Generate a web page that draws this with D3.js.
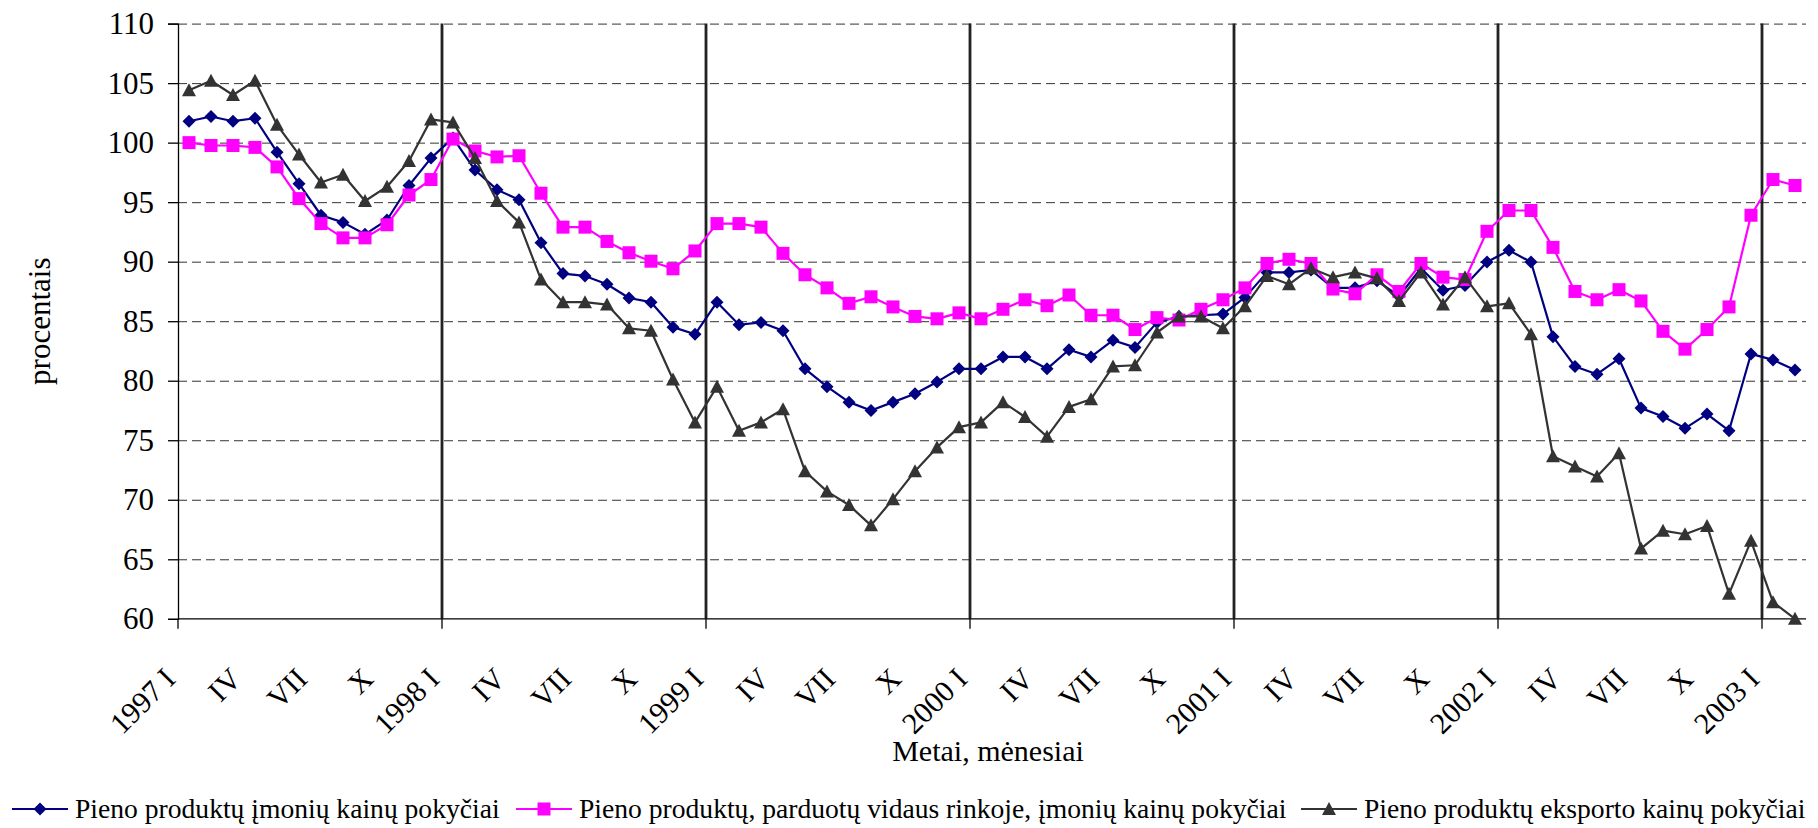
<!DOCTYPE html>
<html>
<head>
<meta charset="utf-8">
<script src="https://cdn.jsdelivr.net/npm/d3@7"></script>
<style>
  html, body { margin: 0; padding: 0; background: #fff; }
  svg { display: block; }
  text { font-family: "Liberation Serif", "Times New Roman", serif; fill: #000; }
</style>
</head>
<body>
<svg id="chart" width="1818" height="828"></svg>
<script>
// ---- DATA ----
const years = ["1997", "1998", "1999", "2000", "2001", "2002", "2003"];
const months = ["I", "II", "III", "IV", "V", "VI", "VII", "VIII", "IX", "X", "XI", "XII"];
const labelMonths = ["I", "IV", "VII", "X"];
const yTicks = [60, 65, 70, 75, 80, 85, 90, 95, 100, 105, 110];

const seriesNames = [
  "Pieno produktų įmonių kainų pokyčiai",
  "Pieno produktų, parduotų vidaus rinkoje, įmonių kainų pokyčiai",
  "Pieno produktų eksporto kainų pokyčiai"
];

const imoniu = [
  101.8, 102.2, 101.8, 102.05, 99.2, 96.55, 93.9, 93.3, 92.3, 93.5, 96.4, 98.7,
  100.4, 97.7, 96.05, 95.2, 91.6, 89.0, 88.8, 88.1, 86.95, 86.6, 84.5, 83.9,
  86.6, 84.7, 84.9, 84.2, 81.0, 79.5, 78.2, 77.5, 78.2, 78.9, 79.9, 81.0,
  81.0, 82.0, 82.0, 81.0, 82.6, 82.0, 83.4, 82.8, 84.9, 85.4, 85.5, 85.6,
  87.0, 89.1, 89.1, 89.3, 87.8, 87.8, 88.4, 87.1, 89.45, 87.6, 88.0, 89.97,
  90.95, 89.97, 83.7, 81.2, 80.55, 81.85, 77.7, 77.0, 76.0, 77.2, 75.8, 82.25,
  81.75, 80.9
];
const vidaus = [
  100.0, 99.76, 99.76, 99.6, 97.96, 95.3, 93.2, 92.0, 92.0, 93.1, 95.6, 96.9,
  100.3, 99.3, 98.8, 98.9, 95.75, 92.9, 92.9, 91.7, 90.75, 90.04, 89.4, 90.9,
  93.2, 93.2, 92.9, 90.7, 88.9, 87.8, 86.5, 87.05, 86.2, 85.4, 85.2, 85.7,
  85.2, 86.0, 86.8, 86.3, 87.2, 85.5, 85.5, 84.3, 85.3, 85.1, 86.0, 86.8,
  87.8, 89.85, 90.2, 89.85, 87.7, 87.3, 88.9, 87.5, 89.85, 88.7, 88.5, 92.55,
  94.3, 94.3, 91.2, 87.5, 86.8, 87.65, 86.7, 84.15, 82.65, 84.3, 86.2, 93.9,
  96.9, 96.4
];
const eksporto = [
  104.4, 105.2, 104.0, 105.2, 101.5, 99.0, 96.65, 97.3, 95.1, 96.3, 98.45, 101.95,
  101.7, 98.7, 95.1, 93.3, 88.5, 86.6, 86.6, 86.4, 84.4, 84.2, 80.1, 76.5,
  79.5, 75.8, 76.5, 77.6, 72.4, 70.7, 69.55, 67.85, 70.05, 72.4, 74.4, 76.1,
  76.5, 78.2, 76.95, 75.3, 77.8, 78.45, 81.2, 81.3, 84.05, 85.4, 85.4, 84.4,
  86.25, 88.8, 88.1, 89.45, 88.7, 89.1, 88.6, 86.7, 89.1, 86.4, 88.7, 86.25,
  86.5, 83.9, 73.65, 72.8, 71.95, 73.9, 65.9, 67.4, 67.1, 67.8, 62.1, 66.55,
  61.4, 60.0
];

// ---- BUILD CATEGORIES ----
const categories = [];
years.forEach(yr => months.forEach(m => {
  if (categories.length < imoniu.length) categories.push(yr + " " + m);
}));
const labelCats = categories.filter(c => labelMonths.includes(c.split(" ")[1]));
const yearStartCats = categories.filter(c => c.split(" ")[1] === "I");

// ---- LAYOUT ----
const FONT = "Liberation Serif, Times New Roman, serif";
const svg = d3.select("#chart");
const L = 178, R = 1806, T = 23.6, B = 618.8;

const x = d3.scaleBand().domain(categories).range([L, R]).paddingInner(0).paddingOuter(0);
const bw = x.bandwidth();
const xc = c => x(c) + bw / 2;
const y = d3.scaleLinear().domain([60, 110]).range([B, T]);

// Horizontal dashed gridlines
svg.append("g")
  .attr("transform", `translate(${L},0)`)
  .call(d3.axisLeft(y).tickValues(yTicks.filter(v => v > 60)).tickSize(-(R - L)).tickFormat(""))
  .call(g => g.select(".domain").remove())
  .call(g => g.selectAll(".tick line")
    .attr("stroke", "#333").attr("stroke-width", 1).attr("stroke-dasharray", "9,5"));

// Vertical year separator lines
svg.append("g").selectAll("line")
  .data(yearStartCats.slice(1))
  .join("line")
  .attr("x1", d => x(d)).attr("x2", d => x(d))
  .attr("y1", T).attr("y2", B)
  .attr("stroke", "#222").attr("stroke-width", 2.8);

// Y axis
const yAxis = svg.append("g")
  .attr("transform", `translate(${L},0)`)
  .attr("font-family", FONT)
  .call(d3.axisLeft(y).tickValues(yTicks).tickSize(10).tickPadding(14).tickFormat(d3.format("d")));
yAxis.attr("font-family", FONT);
yAxis.select(".domain").attr("stroke", "#000").attr("stroke-width", 1.3);
yAxis.selectAll(".tick line").attr("stroke", "#000").attr("stroke-width", 1.3);
yAxis.selectAll(".tick text").attr("font-size", 31).attr("font-family", FONT).attr("fill", "#000");

// X axis: line + year tick marks
const xAxisTicks = svg.append("g")
  .attr("transform", `translate(0,${B})`)
  .call(d3.axisBottom(x).tickValues(yearStartCats).tickSize(10).tickFormat(""));
xAxisTicks.select(".domain").attr("stroke", "#000").attr("stroke-width", 1.3).attr("d", `M${L},0H${R}`);
xAxisTicks.selectAll(".tick line").attr("stroke", "#000").attr("stroke-width", 1.3)
  .attr("transform", `translate(${-bw / 2},0)`);

// X axis labels (rotated)
const xAxisLabels = svg.append("g")
  .attr("transform", `translate(0,${B})`)
  .call(d3.axisBottom(x).tickValues(labelCats).tickSize(0).tickFormat(c => {
    const [yr, m] = c.split(" ");
    return m === "I" ? yr + " I" : m;
  }));
xAxisLabels.attr("font-family", FONT);
xAxisLabels.select(".domain").remove();
xAxisLabels.selectAll(".tick text")
  .attr("font-size", 30).attr("font-family", FONT).attr("fill", "#000")
  .attr("text-anchor", "end").attr("dy", 0).attr("y", 0)
  .attr("transform", `translate(${-bw / 2 - 1},62) rotate(-45)`);

// Axis titles
svg.append("text")
  .attr("x", (L + R) / 2 - 4).attr("y", 761)
  .attr("text-anchor", "middle").attr("font-size", 30).attr("font-family", FONT)
  .text("Metai, mėnesiai");
svg.append("text")
  .attr("transform", `translate(50,${(T + B) / 2}) rotate(-90)`)
  .attr("text-anchor", "middle").attr("font-size", 31).attr("font-family", FONT)
  .text("procentais");

// ---- SERIES ----
const markerPath = {
  diamond: "M0,-6.5L6.5,0L0,6.5L-6.5,0Z",
  square: "M-6.5,-6.5H6.5V6.5H-6.5Z",
  triangle: "M0,-7L7,6L-7,6Z"
};
const series = [
  { name: seriesNames[0], values: imoniu, color: "#000080", marker: "diamond" },
  { name: seriesNames[1], values: vidaus, color: "#FF00FF", marker: "square" },
  { name: seriesNames[2], values: eksporto, color: "#333333", marker: "triangle" }
];

const line = d3.line().x((d, i) => xc(categories[i])).y(d => y(d));

series.forEach(s => {
  const g = svg.append("g");
  g.append("path")
    .attr("d", line(s.values))
    .attr("fill", "none").attr("stroke", s.color).attr("stroke-width", 2.2)
    .attr("stroke-linejoin", "round");
  g.selectAll("path.m")
    .data(s.values)
    .join("path").attr("class", "m")
    .attr("d", markerPath[s.marker])
    .attr("transform", (d, i) => `translate(${xc(categories[i])},${y(d)})`)
    .attr("fill", s.color);
});

// ---- LEGEND ----
const legendY = 809;
const legendX = [12, 516, 1301];
series.forEach((s, i) => {
  const g = svg.append("g").attr("transform", `translate(${legendX[i]},${legendY})`);
  g.append("line").attr("x1", 0).attr("x2", 56).attr("y1", 0).attr("y2", 0)
    .attr("stroke", s.color).attr("stroke-width", 2.2);
  g.append("path").attr("d", markerPath[s.marker]).attr("transform", "translate(28,0)")
    .attr("fill", s.color);
  g.append("text").attr("x", 63).attr("y", 0).attr("dy", "0.33em")
    .attr("font-size", 27.6).attr("font-family", FONT).text(s.name);
});
</script>
</body>
</html>
